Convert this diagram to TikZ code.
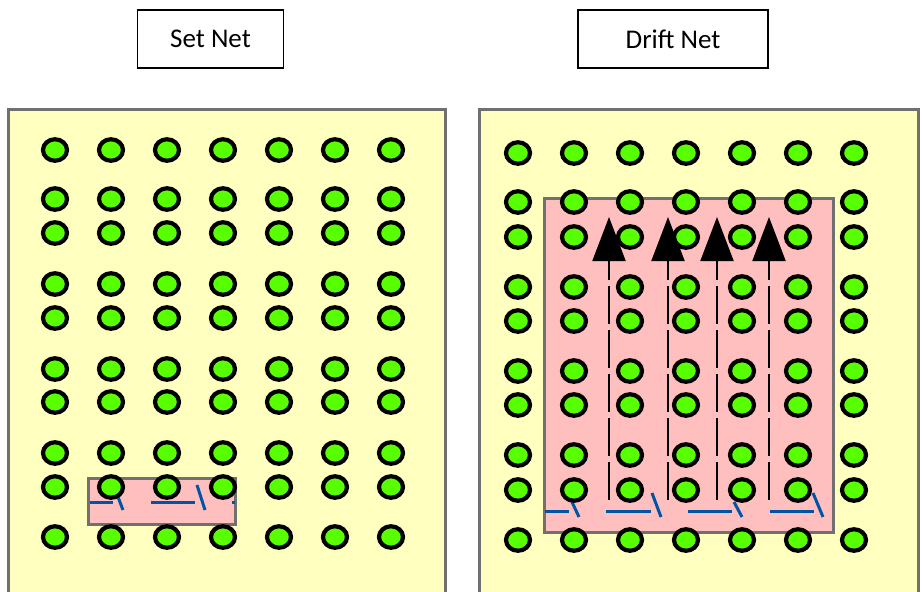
\documentclass[tikz,border=0pt]{standalone}
\usepackage{fontspec}
\setmainfont{Carlito}
\usetikzlibrary{shapes.geometric,arrows.meta}
\definecolor{panelfill}{RGB}{255,255,192}
\definecolor{panelline}{RGB}{112,112,112}
\definecolor{pinkfill}{RGB}{255,191,191}
\definecolor{dotgreen}{RGB}{88,255,0}
\definecolor{netblue}{RGB}{0,84,166}
\tikzset{
  panel/.style={draw=panelline, line width=3pt, fill=panelfill},
  netarea/.style={draw=panelline, line width=3pt, fill=pinkfill},
  dot/.style={ellipse, draw=black, line width=4.2pt, fill=dotgreen, minimum width=24pt, minimum height=21.5pt, inner sep=0pt},
  titlebox/.style={draw=black, line width=1.5pt, minimum width=146pt, minimum height=58pt, inner sep=0pt, font=\fontsize{27}{31}\selectfont},
  netline/.style={draw=netblue, line width=3pt},
  drift/.style={draw=black, line width=2pt, dash pattern=on 38pt off 6pt, -{Triangle[width=33pt,length=44pt]}}
}
\begin{document}
\begin{tikzpicture}[x=1pt,y=-1pt]
\useasboundingbox (0,0) rectangle (922,592);
\clip (0,0) rectangle (922,592);
% titles
\node[titlebox] (tset) at (210.5,39) {Set Net};
\node[titlebox, minimum width=190pt] (tdrift) at (673,39) {Drift Net};
% panels
\path[panel] (8.5,109) rectangle (445.5,610);
\path[panel] (479.5,109) rectangle (918,610);
% net areas
\path[netarea] (88,478) rectangle (235,524);
\path[netarea] (544,198) rectangle (833,532);
% blue net lines (left)
\path[netline] (90,502) -- (113,502);
\path[netline] (118,497) -- (123,510);
\path[netline] (151,502) -- (195,502);
\path[netline] (197,485) -- (205,510);
\path[netline] (232,502) -- (235,502);
% blue net lines (right)
\path[netline] (545,511) -- (569,511);
\path[netline] (572,502) -- (579,517);
\path[netline] (606,511) -- (651,511);
\path[netline] (652,493) -- (661,517);
\path[netline] (688,511) -- (732,511);
\path[netline] (734,502) -- (742,517);
\path[netline] (770,511) -- (814,511);
\path[netline] (813,493) -- (823,517);
% dots
\foreach \r/\y in {1/150,2/199,3/233,4/284,5/318,6/369,7/402,8/453,9/487,10/537}{
  \foreach \c/\x in {1/55,2/111,3/167,4/223,5/279,6/335,7/391}{
    \node[dot] (l-\r-\c) at (\x,\y) {};
  }
}
\foreach \r/\y in {1/153,2/202,3/237,4/287,5/321,6/371,7/405,8/455,9/490,10/540}{
  \foreach \c/\x in {1/518,2/574,3/630,4/686,5/742,6/798,7/854}{
    \node[dot] (r-\r-\c) at (\x,\y) {};
  }
}
% drift arrows
\foreach \i/\x in {1/609,2/668,3/717,4/769}{
  \coordinate (s\i) at (\x,500);
  \coordinate (e\i) at (\x,217);
  \draw[drift] (s\i) -- (e\i);
}
\end{tikzpicture}
\end{document}
